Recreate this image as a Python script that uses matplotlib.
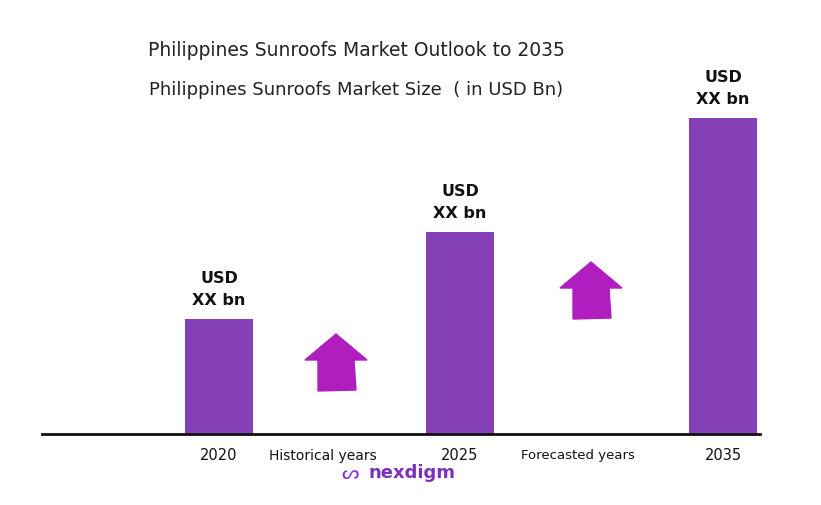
import matplotlib
matplotlib.use("Agg")
import matplotlib.pyplot as plt
from matplotlib.patches import Polygon

years = ["2020", "2025", "2035"]
values = [115, 202, 316]
value_labels = ["USD\nXX bn", "USD\nXX bn", "USD\nXX bn"]
positions = [219, 460, 723]

W, H = 821, 506
fig = plt.figure(figsize=(W/100, H/100), dpi=100)
ax = fig.add_axes([0, 0, 1, 1])
ax.set_xlim(0, W)
ax.set_ylim(-(H - 435), 435)
ax.axis("off")

ax.bar(positions, values, width=68, color="#8540B8", zorder=2)
ax.plot([42, 760], [0, 0], color="#111111", lw=2, zorder=3)

for x, v, lab in zip(positions, values, value_labels):
    ax.text(x, v + 12, lab, ha="center", va="bottom", fontsize=11.5,
            fontweight="bold", linespacing=1.6, color="#111111")
for x, y in zip(positions, years):
    ax.text(x, -21, y, ha="center", va="center", fontsize=10.5, color="#111111")
ax.text(323, -21, "Historical years", ha="center", va="center", fontsize=10, color="#111111")
ax.text(578, -21, "Forecasted years", ha="center", va="center", fontsize=9.5, color="#111111")

def arrow(cx, top, bottom, w=62, sw=36, hh=26):
    t = 435 - top; b = 435 - bottom
    pts = [(cx - sw/2, b), (cx + sw/2 + 2, b + 1), (cx + sw/2, t - hh), (cx + w/2, t - hh),
           (cx, t), (cx - w/2, t - hh), (cx - sw/2, t - hh)]
    ax.add_patch(Polygon(pts, closed=True, color="#B01EBF", zorder=2))
arrow(336, 335, 392)
arrow(591, 263, 320)

fig.text(356/W, 1 - 50/H, "Philippines Sunroofs Market Outlook to 2035", ha="center",
         va="center", fontsize=13.5, color="#222222")
fig.text(356/W, 1 - 90/H, "Philippines Sunroofs Market Size  ( in USD Bn)", ha="center",
         va="center", fontsize=13, color="#222222")
fig.text(350/W, 1 - 474/H, "ᔕ", ha="center", va="center", fontsize=14, color="#8a2be2")
fig.text(412/W, 1 - 473/H, "nexdigm", ha="center", va="center", fontsize=13,
         fontweight="bold", color="#7B2FBE")

fig.savefig("out.png", dpi=100)
